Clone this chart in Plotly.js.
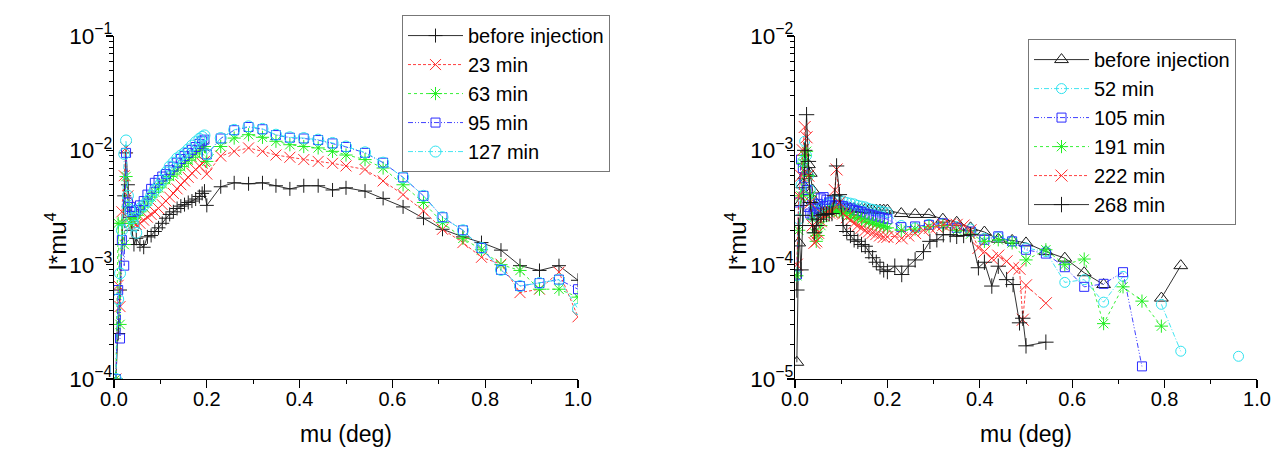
<!DOCTYPE html>
<html><head><meta charset="utf-8">
<script src="https://cdn.plot.ly/plotly-3.0.1.min.js"></script>
<style>html,body{margin:0;padding:0;background:#fff}#plot{width:1276px;height:452px}</style>
</head><body><div id="plot"></div>
<script>
// ---------- Left panel data ----------
const xL = [0.004,0.009,0.013,0.017,0.022,0.026,0.030,0.035,0.039,0.043,0.048,0.056,0.064,0.072,0.080,0.088,0.096,0.104,0.112,0.120,0.128,0.136,0.144,0.152,0.160,0.168,0.176,0.184,0.190,0.195,0.200,
  0.230,0.259,0.290,0.320,0.349,0.379,0.409,0.440,0.471,0.500,0.541,0.580,0.623,0.667,0.708,0.752,0.792,0.834,0.875,0.917,0.959,1.000];
const yL_before = [1.0e-4,2.5e-4,6e-4,1.5e-3,4e-3,9.5e-3,5e-3,2.6e-3,2.0e-3,1.5e-3,1.7e-3,1.5e-3,1.42e-3,1.75e-3,1.8e-3,1.95e-3,2.1e-3,2.3e-3,2.55e-3,2.75e-3,2.9e-3,3.1e-3,3.25e-3,3.35e-3,3.5e-3,3.6e-3,3.75e-3,3.95e-3,4.2e-3,4.4e-3,3.3e-3,
  4.8e-3,5.2e-3,5.1e-3,5.2e-3,4.9e-3,4.6e-3,4.9e-3,4.9e-3,4.5e-3,4.7e-3,4.4e-3,3.8e-3,3.2e-3,2.55e-3,2.04e-3,1.75e-3,1.56e-3,1.34e-3,9.8e-4,8.9e-4,9.8e-4,7.3e-4];
const yL_23 = [1.0e-4,6.6e-4,4.3e-4,2.9e-3,6e-3,1.05e-2,4e-3,2.6e-3,2.4e-3,2.3e-3,2.25e-3,2.3e-3,2.45e-3,2.6e-3,2.75e-3,2.9e-3,3.1e-3,3.35e-3,3.6e-3,3.9e-3,4.2e-3,4.6e-3,5.0e-3,5.4e-3,5.8e-3,6.3e-3,6.8e-3,7.3e-3,7.7e-3,8.0e-3,6.2e-3,
  8.9e-3,9.8e-3,1.05e-2,9.8e-3,9.1e-3,8.7e-3,8.3e-3,8.0e-3,7.7e-3,7.3e-3,6.8e-3,5.4e-3,4.1e-3,2.95e-3,2.04e-3,1.56e-3,1.16e-3,1.01e-3,5.7e-4,6.1e-4,8.6e-4,3.5e-4];
const yL_63 = [1.0e-4,2.3e-3,3e-4,2.3e-3,1.5e-3,5.9e-3,3.2e-3,2.3e-3,2.5e-3,2.6e-3,2.7e-3,2.9e-3,3.2e-3,3.6e-3,3.9e-3,4.3e-3,4.7e-3,5.1e-3,5.5e-3,5.9e-3,6.2e-3,6.7e-3,7.2e-3,7.7e-3,8.2e-3,8.7e-3,9.3e-3,9.9e-3,1.04e-2,1.08e-2,8.0e-3,
  1.08e-2,1.28e-2,1.37e-2,1.30e-2,1.20e-2,1.12e-2,1.08e-2,1.05e-2,9.8e-3,9.1e-3,8.3e-3,7.0e-3,5.0e-3,3.5e-3,2.33e-3,1.7e-3,1.35e-3,1.0e-3,8.9e-4,6.1e-4,6.1e-4,5.2e-4];
const yL_95 = [1.0e-4,6e-4,2.26e-4,1.64e-3,9.8e-4,9.5e-3,3.5e-3,3.2e-3,2.9e-3,2.9e-3,3.0e-3,3.3e-3,3.6e-3,4.1e-3,4.6e-3,5.2e-3,5.5e-3,5.9e-3,6.2e-3,6.7e-3,7.2e-3,7.8e-3,8.4e-3,8.9e-3,9.5e-3,1.01e-2,1.07e-2,1.14e-2,1.2e-2,1.24e-2,9.2e-3,
  1.27e-2,1.50e-2,1.60e-2,1.53e-2,1.36e-2,1.29e-2,1.27e-2,1.23e-2,1.15e-2,1.07e-2,9.5e-3,7.8e-3,5.8e-3,4.0e-3,2.6e-3,2.0e-3,1.40e-3,9.0e-4,6.5e-4,6.9e-4,7.4e-4,6.1e-4];
const yL_127 = [1.0e-4,5e-4,8.4e-4,2.0e-3,9.3e-3,1.22e-2,4.0e-3,3.0e-3,2.55e-3,2.2e-3,1.9e-3,3.1e-3,3.3e-3,3.6e-3,4.0e-3,4.5e-3,4.9e-3,5.5e-3,6.4e-3,7.2e-3,7.8e-3,8.5e-3,9.0e-3,9.5e-3,1.02e-2,1.1e-2,1.18e-2,1.26e-2,1.31e-2,1.35e-2,9.2e-3,
  1.28e-2,1.51e-2,1.62e-2,1.54e-2,1.37e-2,1.30e-2,1.28e-2,1.24e-2,1.16e-2,1.08e-2,9.6e-3,7.8e-3,5.8e-3,4.0e-3,2.6e-3,2.0e-3,1.40e-3,9.0e-4,6.5e-4,6.9e-4,7.4e-4,4.1e-4];

// ---------- Right panel data ----------
const xR_dense = [0.004,0.008,0.013,0.017,0.021,0.025,0.029,0.033,0.038,0.042,0.046,0.050,0.056,0.062,0.068,0.074,0.080,0.086,0.090,0.096,0.104,0.112,0.120,0.128,0.136,0.144,0.152,0.160,0.168,0.176,0.184,0.192,0.200];
const xR_sparse = [0.230,0.260,0.290,0.320,0.350,0.380,0.410,0.440,0.470,0.500,0.543,0.584,0.626,0.668,0.710,0.751,0.793,0.835,0.877,0.918,0.960];
const xR_fine = [0.216,0.231,0.245,0.260,0.278,0.292,0.307,0.321,0.336,0.350,0.365,0.380,0.397,0.410,0.426,0.440,0.458,0.472,0.486,0.493,0.500,0.543];

const yR_before_d = [1.4e-5,1.55e-4,3.5e-4,5e-4,6e-4,6.5e-4,7.5e-4,6.3e-4,4.5e-4,3.6e-4,3.2e-4,3.0e-4,3.0e-4,3.0e-4,3.0e-4,3.05e-4,3.1e-4,3.1e-4,3.1e-4,3.1e-4,3.1e-4,3.1e-4,3.1e-4,3.1e-4,3.05e-4,3.05e-4,3.05e-4,3.0e-4,3.0e-4,3.0e-4,3.0e-4,3.0e-4,3.0e-4];
const yR_before_s = [2.8e-4,2.75e-4,2.75e-4,2.5e-4,2.35e-4,2.1e-4,1.93e-4,1.67e-4,1.63e-4,1.55e-4,1.3e-4,1.14e-4,8.5e-5,6.7e-5,null,null,5.1e-5,9.8e-5,null,null,null];
const yR_52_d = [8e-5,2.5e-4,5e-4,8e-4,1.2e-3,9e-4,6e-4,4.5e-4,3.5e-4,3.0e-4,2.8e-4,2.9e-4,3.1e-4,3.3e-4,3.4e-4,3.5e-4,3.6e-4,3.65e-4,3.7e-4,3.65e-4,3.6e-4,3.5e-4,3.45e-4,3.4e-4,3.3e-4,3.25e-4,3.2e-4,3.1e-4,3.05e-4,3.0e-4,2.95e-4,2.9e-4,2.85e-4];
const yR_52_s = [2.2e-4,2.1e-4,2.25e-4,2.3e-4,2.15e-4,2.05e-4,1.7e-4,1.75e-4,1.6e-4,1.4e-4,1.3e-4,7.0e-5,7.4e-5,4.7e-5,7.9e-5,null,4.5e-5,1.75e-5,null,null,1.58e-5];
const yR_105_d = [8.2e-5,3.5e-4,8.3e-4,7.0e-4,5.7e-4,4.5e-4,3.2e-4,2.8e-4,2.7e-4,2.9e-4,3.1e-4,3.4e-4,3.8e-4,3.9e-4,3.7e-4,3.5e-4,3.3e-4,3.25e-4,3.3e-4,3.3e-4,3.25e-4,3.15e-4,3.1e-4,3.0e-4,2.95e-4,2.9e-4,2.8e-4,2.75e-4,2.7e-4,2.65e-4,2.6e-4,2.55e-4,2.5e-4];
const yR_105_s = [2.13e-4,2.16e-4,2.23e-4,2.3e-4,2.1e-4,1.95e-4,1.65e-4,1.77e-4,1.6e-4,1.35e-4,1.25e-4,9.5e-5,6.4e-5,6.8e-5,8.6e-5,1.29e-5,null,null,null,null,null];
const yR_191_d = [8e-5,2e-4,4e-4,7.7e-4,9e-4,9.8e-4,6e-4,4e-4,2.5e-4,1.9e-4,1.6e-4,1.8e-4,2.2e-4,2.6e-4,2.8e-4,2.9e-4,3.0e-4,3.0e-4,2.95e-4,2.9e-4,2.85e-4,2.8e-4,2.7e-4,2.6e-4,2.55e-4,2.5e-4,2.4e-4,2.35e-4,2.3e-4,2.25e-4,2.2e-4,2.15e-4,2.1e-4];
const yR_191_s = [2.0e-4,2.05e-4,2.15e-4,2.2e-4,2.0e-4,1.85e-4,1.6e-4,1.65e-4,1.55e-4,1.1e-4,1.35e-4,1.0e-4,1.12e-4,3.05e-5,6.4e-5,4.8e-5,2.9e-5,null,null,null,null];
const yR_222_d = [1e-4,4e-4,6e-4,1.0e-3,1.6e-3,1.3e-3,6e-4,3.5e-4,2.2e-4,1.55e-4,1.6e-4,1.9e-4,2.4e-4,2.7e-4,2.8e-4,2.85e-4,2.9e-4,4.5e-4,6.8e-4,3.5e-4,2.8e-4,2.6e-4,2.45e-4,2.3e-4,2.2e-4,2.1e-4,2.0e-4,1.95e-4,1.9e-4,1.85e-4,1.8e-4,1.75e-4,1.75e-4];
const yR_222_f = [1.77e-4,1.7e-4,1.8e-4,1.89e-4,2.0e-4,2.1e-4,2.15e-4,2.23e-4,2.25e-4,2.23e-4,2.2e-4,2.0e-4,1.4e-4,1.3e-4,1.14e-4,1.2e-4,1.07e-4,9.4e-5,9.2e-5,3.3e-5,6.6e-5,4.6e-5];
const yR_268_d = [6e-5,2.2e-4,9e-5,2.7e-4,1.0e-3,2.05e-3,8e-4,3.5e-4,2.2e-4,1.9e-4,2.2e-4,2.5e-4,2.7e-4,2.75e-4,2.75e-4,2.8e-4,2.8e-4,4e-4,7.3e-4,4.1e-4,2.2e-4,1.95e-4,1.8e-4,1.65e-4,1.6e-4,1.5e-4,1.45e-4,1.3e-4,1.15e-4,1.05e-4,9.6e-5,9e-5,8.7e-5];
const yR_268_f = [9.7e-5,8.2e-5,9.7e-5,1.1e-4,1.3e-4,1.6e-4,1.65e-4,1.83e-4,1.83e-4,1.77e-4,1.8e-4,1.83e-4,9.4e-5,1.05e-4,6.5e-5,9.7e-5,7.4e-5,6.7e-5,3.1e-5,3.4e-5,1.95e-5,2.1e-5];

const namesL = ['before injection','23 min','63 min','95 min','127 min'];
const namesR = ['before injection','52 min','105 min','191 min','222 min','268 min'];
const xTitle = 'mu (deg)';
const yTitle = 'I*mu<sup>4</sup>';

// ---------- styles ----------
const C = {black:'#1a1a1a', red:'#ff2a2a', green:'#22ee22', blue:'#2b2bff', cyan:'#2fe2ef'};
function tr(x, y, name, color, symbol, size, dash, xa, ya, leg){
  return {type:'scatter', mode:'lines+markers', x:x, y:y, name:name, xaxis:xa, yaxis:ya, legend:leg,
    connectgaps:false,
    line:{color:color, width:0.9, dash:dash},
    marker:{symbol:symbol, size:size, color:color, line:{color:color, width:1}}};
}
const traces = [
  tr(xL, yL_before, namesL[0], C.black, 'cross-thin-open', 10, 'solid', 'x', 'y', 'legend'),
  tr(xL, yL_23, namesL[1], C.red, 'x-thin-open', 11, '3px,2px', 'x', 'y', 'legend'),
  tr(xL, yL_63, namesL[2], C.green, 'asterisk-open', 11, 'dot', 'x', 'y', 'legend'),
  tr(xL, yL_95, namesL[3], C.blue, 'square-open', 9, '5px,2px,1px,2px,1px,2px', 'x', 'y', 'legend'),
  tr(xL, yL_127, namesL[4], C.cyan, 'circle-open', 11, '5px,2px,1px,2px', 'x', 'y', 'legend'),
  tr(xR_dense.concat(xR_sparse), yR_before_d.concat(yR_before_s), namesR[0], C.black, 'triangle-up-open', 12, 'solid', 'x2', 'y2', 'legend2'),
  tr(xR_dense.concat(xR_sparse), yR_52_d.concat(yR_52_s), namesR[1], C.cyan, 'circle-open', 10, '5px,2px,1px,2px', 'x2', 'y2', 'legend2'),
  tr(xR_dense.concat(xR_sparse), yR_105_d.concat(yR_105_s), namesR[2], C.blue, 'square-open', 9, '5px,2px,1px,2px,1px,2px', 'x2', 'y2', 'legend2'),
  tr(xR_dense.concat(xR_sparse), yR_191_d.concat(yR_191_s), namesR[3], C.green, 'asterisk-open', 11, 'dot', 'x2', 'y2', 'legend2'),
  tr(xR_dense.concat(xR_fine), yR_222_d.concat(yR_222_f), namesR[4], C.red, 'x-thin-open', 12, '3px,2px', 'x2', 'y2', 'legend2'),
  tr(xR_dense.concat(xR_fine), yR_268_d.concat(yR_268_f), namesR[5], C.black, 'cross-thin-open', 11, 'solid', 'x2', 'y2', 'legend2')
];

const FONT = 'Liberation Sans, Arial, sans-serif';
function xax(domain, anchor){
  return {domain:domain, anchor:anchor, range:[0,1], dtick:0.2, tick0:0, tickformat:'.1f',
    showline:true, linecolor:'#000', linewidth:1.2, ticks:'outside', ticklen:8, tickwidth:1.2, tickcolor:'#000',
    minor:{ticks:'outside', ticklen:4, tickwidth:1, tickcolor:'#000', dtick:0.1, showgrid:false},
    showgrid:false, zeroline:false, tickfont:{family:FONT, size:20, color:'#000'}, ticklabelstandoff:-6,
    title:{text:xTitle, font:{family:FONT, size:23, color:'#000'}, standoff:16}};
}
function yax(range, anchor){
  return {domain:[0,1], anchor:anchor, type:'log', range:range, dtick:1, exponentformat:'power',
    showline:true, linecolor:'#000', linewidth:1.2, ticks:'outside', ticklen:7, tickwidth:1.2, tickcolor:'#000',
    minor:{ticks:'outside', ticklen:4, tickwidth:1, tickcolor:'#000', showgrid:false},
    showgrid:false, zeroline:false, tickfont:{family:FONT, size:18, color:'#000'}, ticklabelstandoff:-10};
}
const legStyle = {bordercolor:'#777', borderwidth:1, bgcolor:'rgba(255,255,255,0)',
  font:{family:FONT, size:20, color:'#000'}, itemwidth:55, tracegroupgap:0, xanchor:'left', yanchor:'top'};
function yTitleAnn(xpx){
  return {text:yTitle, xref:'paper', yref:'paper', x:xpx/1276, y:0.40, xanchor:'center', yanchor:'middle',
    textangle:-90, showarrow:false, font:{family:FONT, size:24, color:'#000'}};
}

const layout = {
  width:1276, height:452, paper_bgcolor:'#fff', plot_bgcolor:'#fff',
  margin:{l:0, r:0, t:36, b:73},
  xaxis: xax([114/1276, 578/1276], 'y'),
  yaxis: yax([-4,-1], 'x'),
  xaxis2: xax([795/1276, 1257/1276], 'y2'),
  yaxis2: yax([-5,-2], 'x2'),
  legend: Object.assign({x:402/1276, y:1.061}, legStyle),
  legend2: Object.assign({x:1028/1276, y:0.991}, legStyle),
  annotations:[yTitleAnn(56), yTitleAnn(736)],
  showlegend:true
};
Plotly.newPlot('plot', traces, layout, {displayModeBar:false, staticPlot:true});
</script></body></html>
